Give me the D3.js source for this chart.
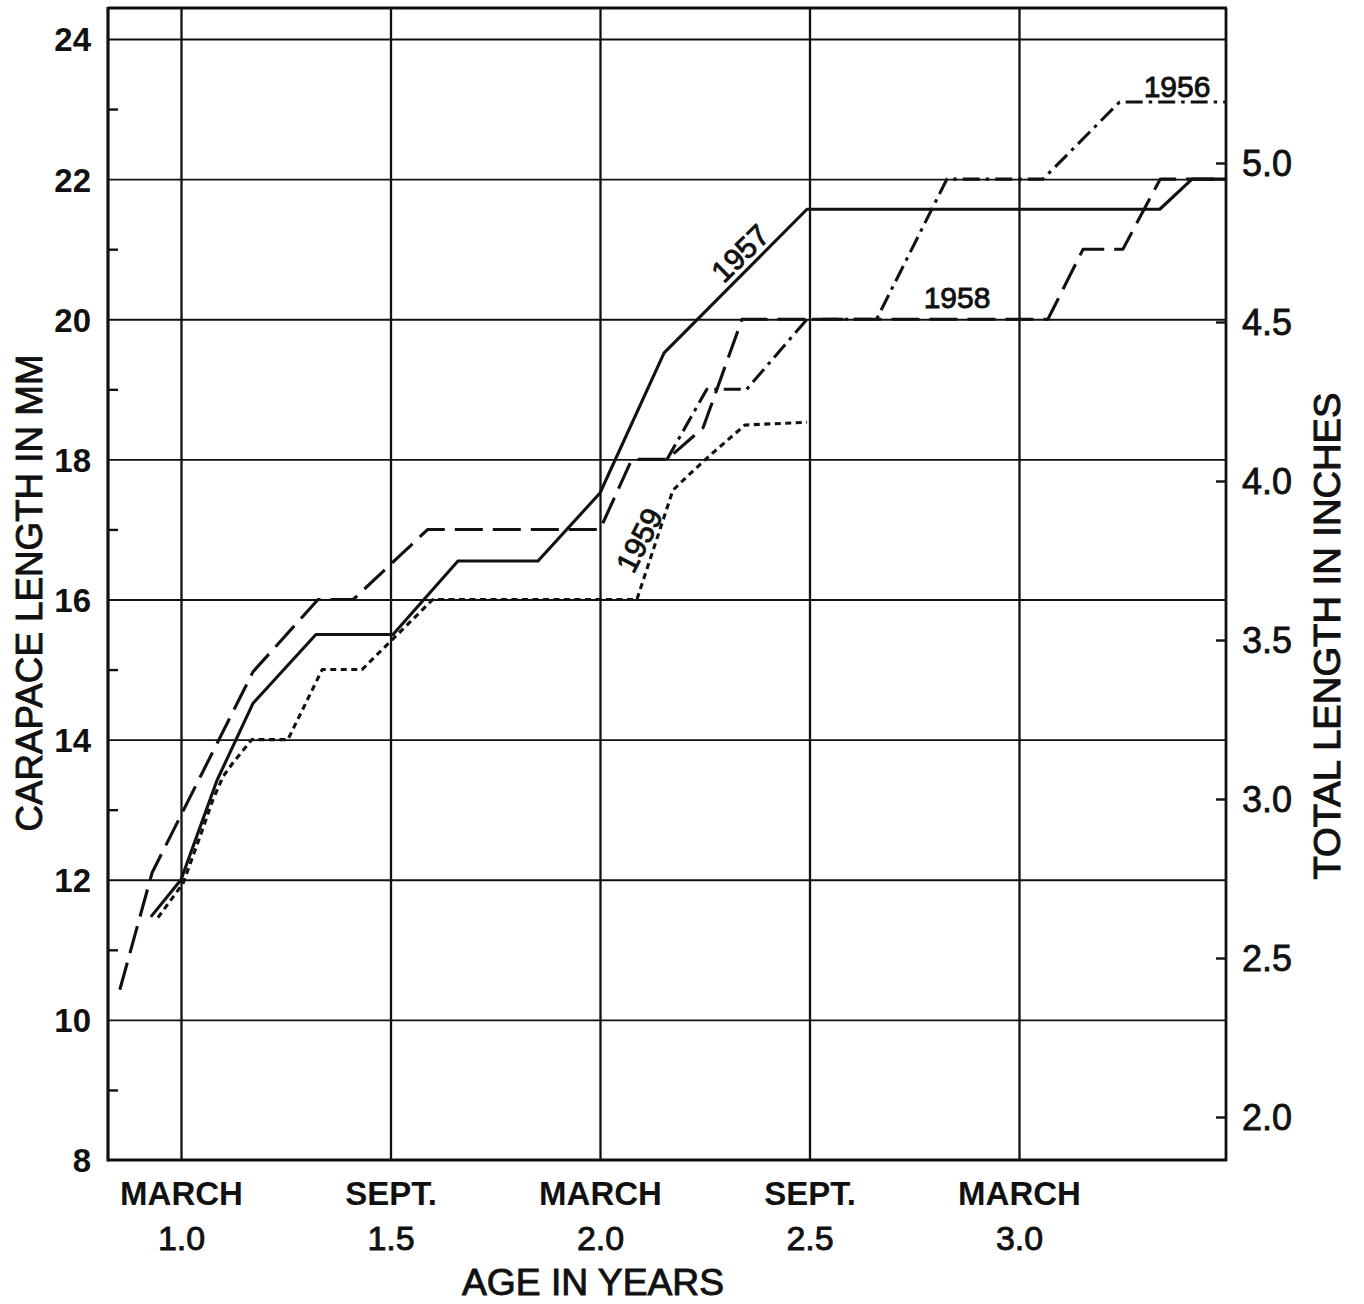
<!DOCTYPE html>
<html>
<head>
<meta charset="utf-8">
<script src="https://cdn.jsdelivr.net/npm/d3@7"></script>
<style>
  html, body { margin: 0; padding: 0; background: #fff; }
  svg { display: block; font-family: "Liberation Sans", Arial, sans-serif; }
</style>
</head>
<body>
<div id="chart"></div>
<script>
// ---------- DATA ----------
const ageTicks = [1.0, 1.5, 2.0, 2.5, 3.0];
const monthLabels = ["MARCH", "SEPT.", "MARCH", "SEPT.", "MARCH"];
const ageLabels = ["1.0", "1.5", "2.0", "2.5", "3.0"];
const mmTicks = [8, 10, 12, 14, 16, 18, 20, 22, 24];
const mmMinorTicks = [9, 11, 13, 15, 17, 19, 21, 23];
const inchTicks = [2.0, 2.5, 3.0, 3.5, 4.0, 4.5, 5.0];

const age1956 = [2.16, 2.255, 2.35, 2.494, 2.66, 2.828, 3.057, 3.24, 3.494];
const mm1956  = [18.0, 19.0, 19.0, 20.0, 20.0, 22.0, 22.0, 23.1, 23.1];

const age1957 = [0.928, 1.0, 1.086, 1.172, 1.322, 1.506, 1.661, 1.852, 2.0, 2.153, 2.494, 3.336, 3.413, 3.494];
const mm1957  = [11.47, 12.0, 13.42, 14.52, 15.5, 15.5, 16.55, 16.55, 17.52, 19.52, 21.57, 21.57, 22.0, 22.0];

const age1958 = [0.854, 0.931, 1.172, 1.327, 1.411, 1.589, 2.0, 2.076, 2.16, 2.246, 2.339, 3.069, 3.153, 3.248, 3.337, 3.494];
const mm1958  = [10.43, 12.1, 14.97, 16.0, 16.0, 17.0, 17.0, 18.0, 18.0, 18.45, 20.0, 20.0, 21.0, 21.0, 22.0, 22.0];

const age1959 = [0.945, 1.005, 1.045, 1.076, 1.100, 1.124, 1.169, 1.255, 1.337, 1.432, 1.601, 2.088, 2.174, 2.214, 2.263, 2.346, 2.494];
const mm1959  = [11.46, 11.95, 12.61, 13.14, 13.47, 13.67, 14.0, 14.0, 15.0, 15.0, 16.0, 16.0, 17.56, 17.79, 18.06, 18.49, 18.53];

// ---------- LAYOUT ----------
const W = 1364, H = 1304;
const L = 108, R = 1226, T = 8, B = 1160;

const x = d3.scaleLinear().domain([1.0, 3.0]).range([181, 1019]);
const y = d3.scaleLinear().domain([8, 24]).range([B, 39]);
const yIn = d3.scaleLinear().domain([2.0, 5.0]).range([1117, 163]);

const svg = d3.select("#chart").append("svg")
  .attr("width", W).attr("height", H)
  .attr("viewBox", `0 0 ${W} ${H}`);
svg.append("rect").attr("width", W).attr("height", H).attr("fill", "#fff");

const ink = "#111";
const FONT = '"Liberation Sans", Arial, sans-serif';

// horizontal grid
svg.append("g").attr("transform", `translate(${L},0)`)
  .call(d3.axisRight(y).tickValues(mmTicks.filter(d => d > 8)).tickSize(R - L).tickFormat(""))
  .call(g => g.select(".domain").remove())
  .call(g => g.selectAll("line").attr("stroke", ink).attr("stroke-width", 1.8));

// vertical grid
svg.append("g").attr("transform", `translate(0,${B})`)
  .call(d3.axisBottom(x).tickValues(ageTicks).tickSize(-(B - T)).tickFormat(""))
  .call(g => g.select(".domain").remove())
  .call(g => g.selectAll("line").attr("stroke", ink).attr("stroke-width", 2.3));

// minor ticks on left axis (inward)
svg.append("g").attr("transform", `translate(${L},0)`)
  .call(d3.axisRight(y).tickValues(mmMinorTicks).tickSize(10).tickFormat(""))
  .call(g => g.select(".domain").remove())
  .call(g => g.selectAll("line").attr("stroke", ink).attr("stroke-width", 2.4));

// left tick labels
svg.append("g").attr("transform", `translate(${L},0)`)
  .call(d3.axisLeft(y).tickValues(mmTicks).tickSize(0).tickPadding(17).tickFormat(d3.format("d")))
  .call(g => g.select(".domain").remove())
  .call(g => g.selectAll("text")
    .attr("font-family", FONT)
    .attr("font-size", 33).attr("font-weight", "bold").attr("fill", ink)
    .attr("dy", "0.36em"));

// right ticks (inward) and labels
svg.append("g").attr("transform", `translate(${R},0)`)
  .call(d3.axisLeft(yIn).tickValues(inchTicks).tickSize(10).tickFormat(""))
  .call(g => g.select(".domain").remove())
  .call(g => g.selectAll("line").attr("stroke", ink).attr("stroke-width", 2.4));

svg.append("g").attr("transform", `translate(${R},0)`)
  .call(d3.axisRight(yIn).tickValues(inchTicks).tickSize(0).tickPadding(16).tickFormat(d3.format(".1f")))
  .call(g => g.select(".domain").remove())
  .call(g => g.selectAll("text")
    .attr("font-family", FONT)
    .attr("font-size", 36).attr("fill", ink)
    .attr("stroke", ink).attr("stroke-width", 0.8)
    .attr("dy", "0.36em"));

// bottom labels: month line
svg.append("g").attr("transform", `translate(0,${B})`)
  .call(d3.axisBottom(x).tickValues(ageTicks).tickSize(0).tickFormat((d, i) => monthLabels[i]))
  .call(g => g.select(".domain").remove())
  .call(g => g.selectAll("text")
    .attr("font-family", FONT)
    .attr("font-size", 33).attr("font-weight", "bold").attr("fill", ink)
    .attr("y", 45).attr("dy", 0));

// bottom labels: age numbers
svg.append("g").attr("transform", `translate(0,${B})`)
  .call(d3.axisBottom(x).tickValues(ageTicks).tickSize(0).tickFormat((d, i) => ageLabels[i]))
  .call(g => g.select(".domain").remove())
  .call(g => g.selectAll("text")
    .attr("font-family", FONT)
    .attr("font-size", 34).attr("fill", ink)
    .attr("stroke", ink).attr("stroke-width", 0.9)
    .attr("y", 90).attr("dy", 0));

// frame
svg.append("line").attr("x1", L).attr("x2", L).attr("y1", T - 1).attr("y2", B + 1.5)
  .attr("stroke", ink).attr("stroke-width", 3.2);
svg.append("line").attr("x1", L).attr("x2", R + 1).attr("y1", T).attr("y2", T)
  .attr("stroke", ink).attr("stroke-width", 2.8);
svg.append("line").attr("x1", R).attr("x2", R).attr("y1", T).attr("y2", B + 1)
  .attr("stroke", ink).attr("stroke-width", 2.8);
svg.append("line").attr("x1", L).attr("x2", R + 1).attr("y1", B).attr("y2", B)
  .attr("stroke", ink).attr("stroke-width", 2.8);

// axis titles
svg.append("text")
  .attr("transform", `translate(42,593) rotate(-90)`)
  .attr("text-anchor", "middle")
  .attr("font-size", 36).attr("fill", ink)
  .attr("stroke", ink).attr("stroke-width", 0.9)
  .attr("textLength", 477).attr("lengthAdjust", "spacingAndGlyphs")
  .text("CARAPACE LENGTH IN MM");

svg.append("text")
  .attr("transform", `translate(1340,636) rotate(-90)`)
  .attr("text-anchor", "middle")
  .attr("font-size", 36).attr("fill", ink)
  .attr("stroke", ink).attr("stroke-width", 1.0)
  .attr("textLength", 487).attr("lengthAdjust", "spacingAndGlyphs")
  .text("TOTAL LENGTH IN INCHES");

svg.append("text")
  .attr("x", 593).attr("y", 1295)
  .attr("text-anchor", "middle")
  .attr("font-size", 36).attr("fill", ink)
  .attr("stroke", ink).attr("stroke-width", 0.9)
  .attr("textLength", 262).attr("lengthAdjust", "spacingAndGlyphs")
  .text("AGE IN YEARS");

// ---------- SERIES ----------
const line = d3.line().x(d => x(d[0])).y(d => y(d[1]));
const series = [
  { name: "1956", data: d3.zip(age1956, mm1956), dash: "17,6,3.5,6" },
  { name: "1957", data: d3.zip(age1957, mm1957), dash: null },
  { name: "1958", data: d3.zip(age1958, mm1958), dash: "28,10" },
  { name: "1959", data: d3.zip(age1959, mm1959), dash: "6,4.5" }
];
svg.append("g").selectAll("path").data(series).join("path")
  .attr("d", d => line(d.data))
  .attr("fill", "none")
  .attr("stroke", ink)
  .attr("stroke-width", 3.1)
  .attr("stroke-linejoin", "round")
  .attr("stroke-dasharray", d => d.dash);

// series labels
const labelFont = 30;
function seriesLabel(sel) {
  sel.attr("font-size", labelFont).attr("fill", ink)
     .attr("stroke", ink).attr("stroke-width", 0.9);
}
svg.append("text").attr("x", 1177).attr("y", 97).attr("text-anchor", "middle")
  .call(seriesLabel).text("1956");
svg.append("text").attr("x", 957).attr("y", 308).attr("text-anchor", "middle")
  .call(seriesLabel).text("1958");
svg.append("text").attr("transform", "translate(740,253) rotate(-44.6)")
  .attr("text-anchor", "middle").attr("dy", "0.36em")
  .call(seriesLabel).text("1957");
svg.append("text").attr("transform", "translate(639,540) rotate(-63)")
  .attr("text-anchor", "middle").attr("dy", "0.36em")
  .call(seriesLabel).text("1959");
</script>
</body>
</html>
